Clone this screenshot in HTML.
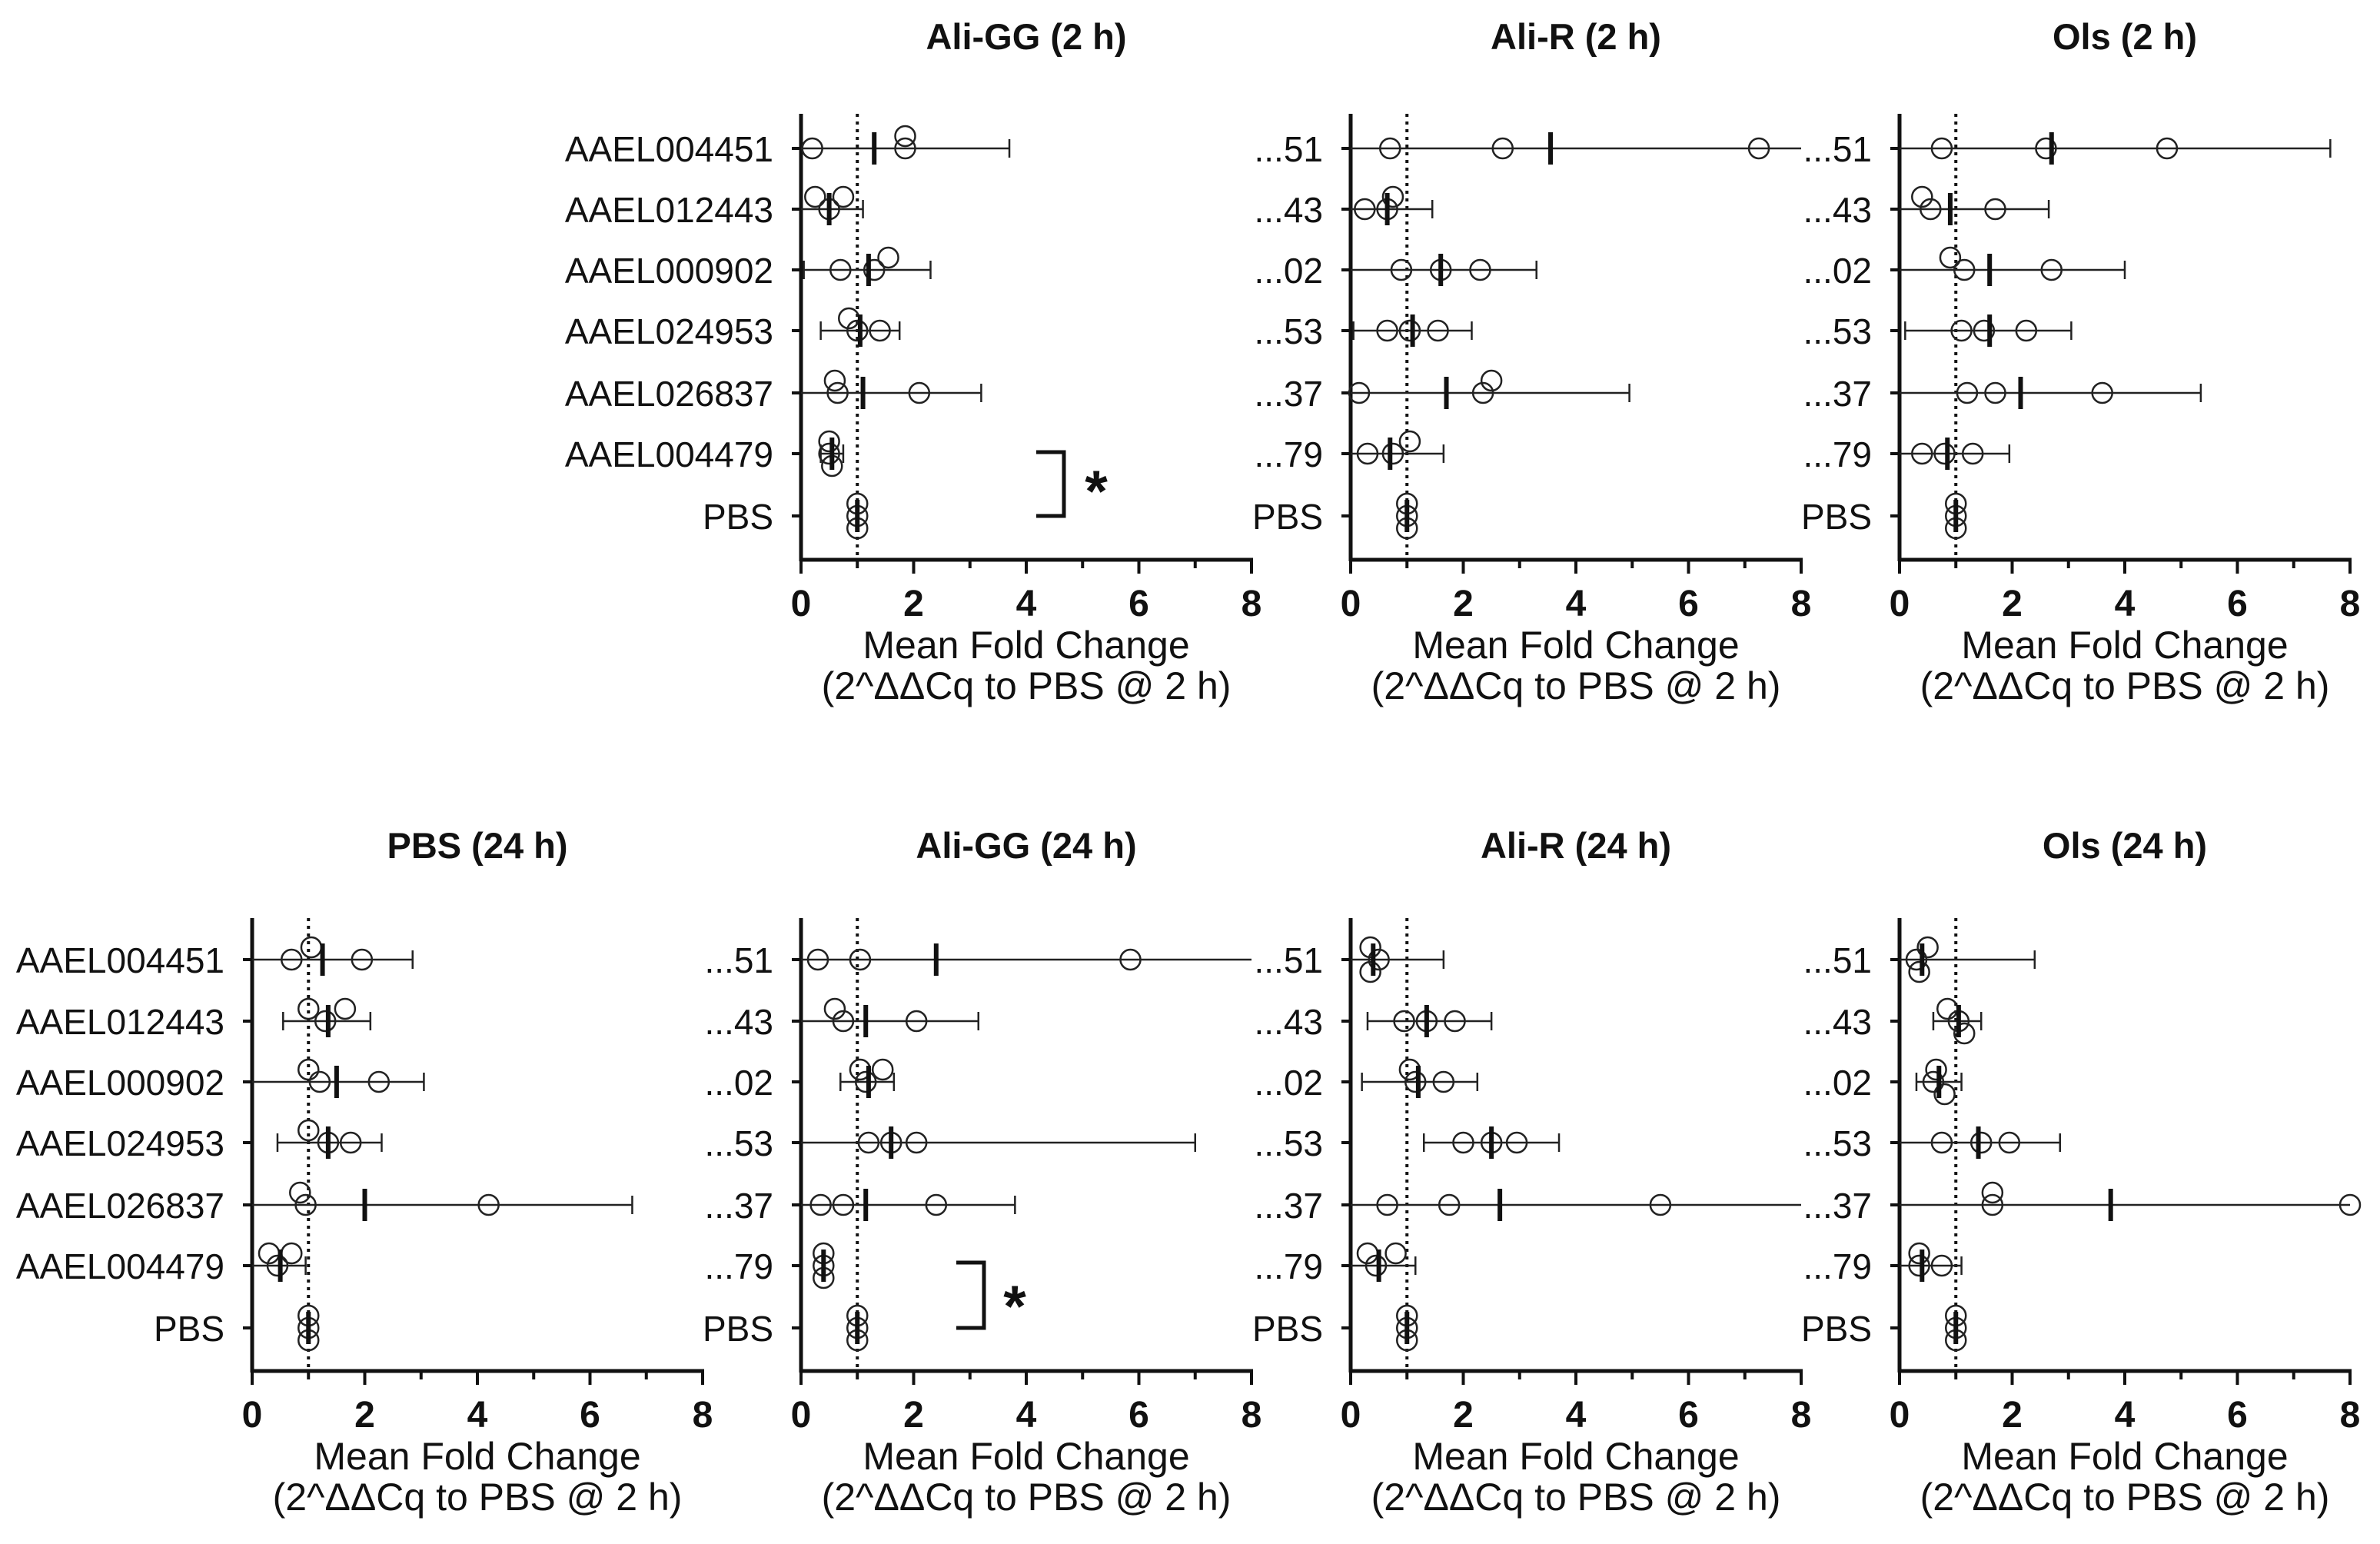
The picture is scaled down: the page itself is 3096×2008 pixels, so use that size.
<!DOCTYPE html>
<html><head><meta charset="utf-8"><style>
html,body{margin:0;padding:0;background:#fff}
svg{display:block}
text{font-family:"Liberation Sans",Arial,sans-serif;fill:#111}
</style></head><body>
<svg id="chart" width="3096" height="2008" viewBox="0 0 3096 2008" xmlns="http://www.w3.org/2000/svg"></svg>
<script>
const genes = ["AAEL004451","AAEL012443","AAEL000902","AAEL024953","AAEL026837","AAEL004479","PBS"];
const shortGenes = ["...51","...43","...02","...53","...37","...79","PBS"];
const xTicks = [0,2,4,6,8];
const panelTitles = ["Ali-GG (2 h)","Ali-R (2 h)","Ols (2 h)","PBS (24 h)","Ali-GG (24 h)","Ali-R (24 h)","Ols (24 h)"];
const pointsAliGG2 = [[0.2,1.85,1.85],[0.5,0.25,0.75],[0.7,1.3,1.55],[1.0,0.85,1.4],[0.65,0.6,2.1],[0.5,0.5,0.55],[1,1,1]];
const meanAliGG2 = [1.3,0.5,1.2,1.05,1.1,0.55,1];
const errLoAliGG2 = [0,0,0.05,0.35,0,0.35,1];
const errHiAliGG2 = [3.7,1.1,2.3,1.75,3.2,0.75,1];
const pointsAliR2 = [[0.7,2.7,7.25],[0.25,0.65,0.75],[0.9,1.6,2.3],[0.65,1.05,1.55],[0.15,2.35,2.5],[0.3,0.75,1.05],[1,1,1]];
const meanAliR2 = [3.55,0.65,1.6,1.1,1.7,0.7,1];
const errLoAliR2 = [0,0,0,0.05,0,0,1];
const errHiAliR2 = [8,1.45,3.3,2.15,4.95,1.65,1];
const pointsOls2 = [[0.75,2.6,4.75],[0.55,0.4,1.7],[1.15,0.9,2.7],[1.1,1.5,2.25],[1.2,1.7,3.6],[0.4,0.8,1.3],[1,1,1]];
const meanOls2 = [2.7,0.9,1.6,1.6,2.15,0.85,1];
const errLoOls2 = [0,0,0,0.1,0,0,1];
const errHiOls2 = [7.65,2.65,4.0,3.05,5.35,1.95,1];
const pointsPBS24 = [[0.7,1.05,1.95],[1.3,1.65,1.0],[1.2,2.25,1.0],[1.35,1.75,1.0],[0.95,4.2,0.85],[0.45,0.3,0.7],[1,1,1]];
const meanPBS24 = [1.25,1.35,1.5,1.35,2.0,0.5,1];
const errLoPBS24 = [0,0.55,0,0.45,0,0,1];
const errHiPBS24 = [2.85,2.1,3.05,2.3,6.75,0.95,1];
const pointsAliGG24 = [[0.3,1.05,5.85],[0.75,0.6,2.05],[1.15,1.05,1.45],[1.2,2.05,1.6],[0.75,0.35,2.4],[0.4,0.4,0.4],[1,1,1]];
const meanAliGG24 = [2.4,1.15,1.2,1.6,1.15,0.4,1];
const errLoAliGG24 = [0,0,0.7,0,0,0.4,1];
const errHiAliGG24 = [8,3.15,1.65,7.0,3.8,0.4,1];
const pointsAliR24 = [[0.5,0.35,0.35],[0.95,1.35,1.85],[1.15,1.65,1.05],[2.0,2.5,2.95],[0.65,1.75,5.5],[0.45,0.3,0.8],[1,1,1]];
const meanAliR24 = [0.4,1.35,1.2,2.5,2.65,0.5,1];
const errLoAliR24 = [0,0.3,0.2,1.3,0,0,1];
const errHiAliR24 = [1.65,2.5,2.25,3.7,8,1.15,1];
const pointsOls24 = [[0.3,0.5,0.35],[1.05,0.85,1.15],[0.6,0.65,0.8],[0.75,1.45,1.95],[1.65,1.65,8.0],[0.35,0.35,0.75],[1,1,1]];
const meanOls24 = [0.4,1.05,0.7,1.4,3.75,0.4,1];
const errLoOls24 = [0,0.6,0.3,0,0,0,1];
const errHiOls24 = [2.4,1.45,1.1,2.85,8,1.1,1];

const NS="http://www.w3.org/2000/svg";
const svg=document.getElementById('chart');
function mk(tag,attrs,parent){const e=document.createElementNS(NS,tag);for(const k in attrs)e.setAttribute(k,attrs[k]);(parent||svg).appendChild(e);return e;}

const W=586;
const topRows=[193,272,351,430,511,590,671];
const botRows=[1248,1328,1407,1486,1567,1646,1727];
const panels=[
 {x0:1042,top:148,axisY:728,rows:topRows,titleY:64,full:true,pts:pointsAliGG2,mean:meanAliGG2,lo:errLoAliGG2,hi:errHiAliGG2,name:'ali-gg-2h'},
 {x0:1757,top:148,axisY:728,rows:topRows,titleY:64,full:false,pts:pointsAliR2,mean:meanAliR2,lo:errLoAliR2,hi:errHiAliR2,name:'ali-r-2h'},
 {x0:2471,top:148,axisY:728,rows:topRows,titleY:64,full:false,pts:pointsOls2,mean:meanOls2,lo:errLoOls2,hi:errHiOls2,name:'ols-2h'},
 {x0:328,top:1194,axisY:1783,rows:botRows,titleY:1116,full:true,pts:pointsPBS24,mean:meanPBS24,lo:errLoPBS24,hi:errHiPBS24,name:'pbs-24h'},
 {x0:1042,top:1194,axisY:1783,rows:botRows,titleY:1116,full:false,pts:pointsAliGG24,mean:meanAliGG24,lo:errLoAliGG24,hi:errHiAliGG24,name:'ali-gg-24h'},
 {x0:1757,top:1194,axisY:1783,rows:botRows,titleY:1116,full:false,pts:pointsAliR24,mean:meanAliR24,lo:errLoAliR24,hi:errHiAliR24,name:'ali-r-24h'},
 {x0:2471,top:1194,axisY:1783,rows:botRows,titleY:1116,full:false,pts:pointsOls24,mean:meanOls24,lo:errLoOls24,hi:errHiOls24,name:'ols-24h'}
];

panels.forEach((p,pi)=>{
  const g=mk('g',{});
  
  
  const X=v=>p.x0+Math.min(Math.max(v,0),8)/8*W;
  const t=mk('text',{x:p.x0+W/2,y:p.titleY,'text-anchor':'middle','font-size':47,'font-weight':'bold'},g);
  t.textContent=panelTitles[pi];
  
  
  const dl=mk('line',{x1:X(1),x2:X(1),y1:p.top,y2:p.axisY,stroke:'#111','stroke-width':4,'stroke-dasharray':'4 6'},g);
  
  
  const ya=mk('line',{x1:p.x0,x2:p.x0,y1:p.top,y2:p.axisY+2,stroke:'#111','stroke-width':5},g);
  
  
  const xa=mk('line',{x1:p.x0-2,x2:p.x0+W+2,y1:p.axisY,y2:p.axisY,stroke:'#111','stroke-width':5},g);
  
  
  for(let v=0;v<=8;v++){
    mk('line',{x1:X(v),x2:X(v),y1:p.axisY,y2:p.axisY+(v%2?11:18),stroke:'#111','stroke-width':4},g);
  }
  xTicks.forEach(v=>{
    const tl=mk('text',{x:X(v),y:p.axisY+73,'text-anchor':'middle','font-size':48,'font-weight':'bold'},g);
    tl.textContent=v;
    
    
  });
  const a1=mk('text',{x:p.x0+W/2,y:p.axisY+128,'text-anchor':'middle','font-size':50},g);
  a1.textContent='Mean Fold Change';
  
  
  const a2=mk('text',{x:p.x0+W/2,y:p.axisY+181,'text-anchor':'middle','font-size':50},g);
  a2.textContent='(2^\u0394\u0394Cq to PBS @ 2 h)';
  
  
  const labels=p.full?genes:shortGenes;
  p.rows.forEach((ry,ri)=>{
    mk('line',{x1:p.x0-12,x2:p.x0,y1:ry,y2:ry,stroke:'#111','stroke-width':4},g);
    const yl=mk('text',{x:p.x0-36,y:ry+17,'text-anchor':'end','font-size':46},g);
    yl.textContent=labels[ri];
    
    
    const lo=p.lo[ri],hi=p.hi[ri];
    if(hi>lo){
      const eb=mk('line',{x1:X(lo),x2:X(hi),y1:ry,y2:ry,stroke:'#222','stroke-width':2.5},g);
      
      
      if(lo>0) mk('line',{x1:X(lo),x2:X(lo),y1:ry-12,y2:ry+12,stroke:'#222','stroke-width':2.5},g);
      if(hi<8) mk('line',{x1:X(hi),x2:X(hi),y1:ry-12,y2:ry+12,stroke:'#222','stroke-width':2.5},g);
    }
    const placed=[];
    p.pts[ri].forEach(v=>{
      let off=0;
      const clash=o=>placed.some(q=>q.o===o&&Math.abs(q.v-v)<0.36);
      if(clash(0)){off=clash(-16)?16:-16;if(off===16&&clash(16))off=0;}
      placed.push({v:v,o:off});
      const c=mk('circle',{cx:X(v),cy:ry+off,r:13,fill:'none',stroke:'#222','stroke-width':2.5},g);
      
      
    });
    const m=mk('line',{x1:X(p.mean[ri]),x2:X(p.mean[ri]),y1:ry-21,y2:ry+21,stroke:'#111','stroke-width':6},g);
    
    
  });
});
function bracket(x1,x2,y1,y2,sx,sy){
  const b=mk('path',{d:`M${x1} ${y1} H${x2} V${y2} H${x1}`,fill:'none',stroke:'#111','stroke-width':5});
  
  
  const s=mk('text',{x:sx,y:sy,'text-anchor':'middle','font-size':76,'font-weight':'bold'});
  s.textContent='*';
  
  
}
bracket(1348,1384,588,671,1426,665);
bracket(1244,1280,1642,1727,1320,1725);
</script>
</body></html>
